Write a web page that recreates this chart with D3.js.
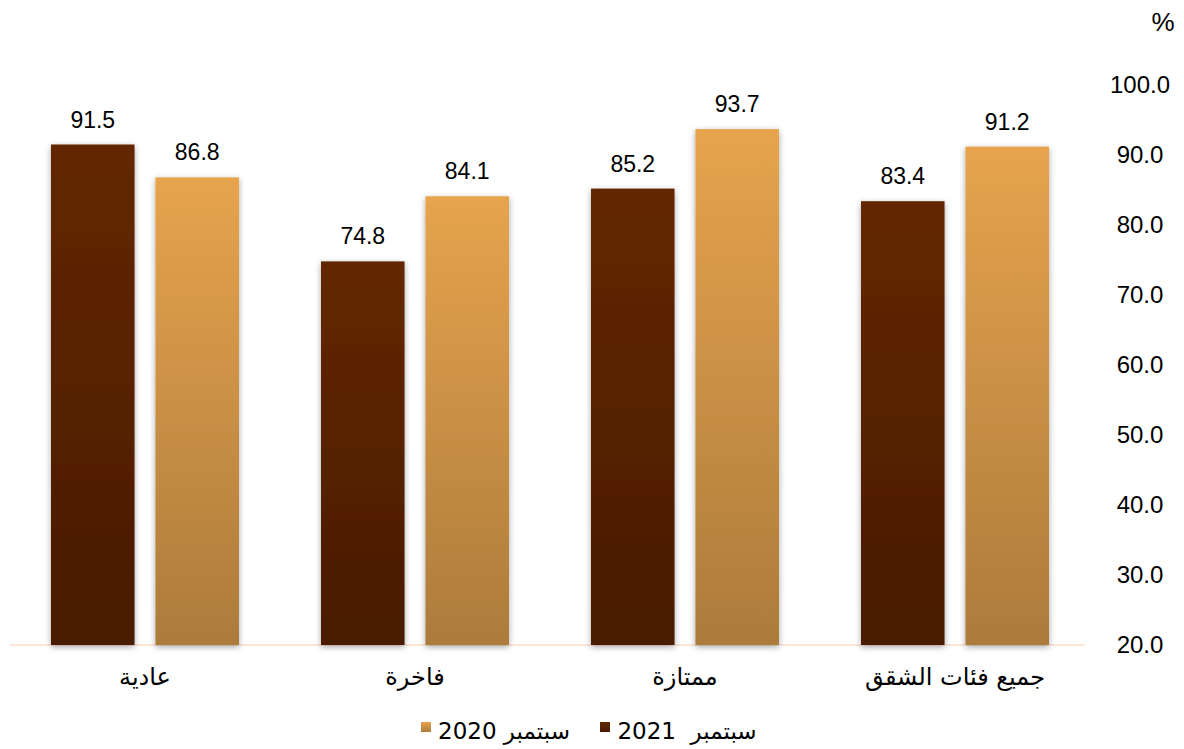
<!DOCTYPE html>
<html>
<head>
<meta charset="utf-8">
<script src="https://cdn.jsdelivr.net/npm/d3@7"></script>
<style>
  body { margin: 0; background: #fff; }
  text { font-family: "Liberation Sans", Arial, sans-serif; fill: #000; }
  .ar { font-family: "DejaVu Sans", "Noto Sans", sans-serif; white-space: pre; }
</style>
</head>
<body>
<div id="container"></div>
<script>
// data
const categories = ["عادية", "فاخرة", "ممتازة", "جميع فئات الشقق"];
const series = ["سبتمبر  2021", "سبتمبر 2020"];
const values2021 = [91.5, 74.8, 85.2, 83.4];
const values2020 = [86.8, 84.1, 93.7, 91.2];
const yTicks = [20, 30, 40, 50, 60, 70, 80, 90, 100];

const width = 1184;
const height = 749;

const svg = d3.select("#container")
  .append("svg")
  .attr("width", width)
  .attr("height", height);

const defs = svg.append("defs");
// gradients for the two series
const grads = [
  { id: "g2021", top: "#632700", bottom: "#481b00" },
  { id: "g2020", top: "#e6a44d", bottom: "#ac7b3c" }
];
grads.forEach((g) => {
  const lg = defs.append("linearGradient")
    .attr("id", g.id).attr("x1", 0).attr("y1", 0).attr("x2", 0).attr("y2", 1);
  lg.append("stop").attr("offset", "0%").attr("stop-color", g.top);
  lg.append("stop").attr("offset", "100%").attr("stop-color", g.bottom);
});
const shadow = defs.append("filter").attr("id", "shadow")
  .attr("x", "-20%").attr("y", "-10%").attr("width", "140%").attr("height", "120%");
shadow.append("feDropShadow")
  .attr("dx", 0).attr("dy", 2).attr("stdDeviation", 3)
  .attr("flood-color", "#000").attr("flood-opacity", 0.35);

// scales
const x0 = d3.scaleBand().domain(categories).range([10, 1090]).paddingInner(0).paddingOuter(0);
const x1 = d3.scaleBand().domain([0, 1]).range([41, 229]).paddingInner(0.2);
const y = d3.scaleLinear().domain([20, 100]).range([645, 85]);

// y axis labels (right side)
svg.append("g")
  .selectAll("text")
  .data(yTicks)
  .enter()
  .append("text")
  .attr("x", 1140)
  .attr("y", (d) => y(d))
  .attr("dy", "0.35em")
  .attr("text-anchor", "middle")
  .style("font-size", "24px")
  .text((d) => d3.format(".1f")(d));

svg.append("text")
  .attr("x", 1163).attr("y", 31)
  .attr("text-anchor", "middle")
  .style("font-size", "26px")
  .text("%");

// baseline
svg.append("line")
  .attr("x1", 10).attr("x2", 1085)
  .attr("y1", y(20)).attr("y2", y(20))
  .attr("stroke", "#fbe6d8").attr("stroke-width", 2);

// bars
const rows = categories.map((c, i) => ({ cat: c, vals: [values2021[i], values2020[i]] }));
const groups = svg.selectAll(".grp")
  .data(rows)
  .enter()
  .append("g")
  .attr("class", "grp")
  .attr("transform", (d) => `translate(${x0(d.cat)},0)`);

groups.selectAll("rect")
  .data((d) => d.vals.map((v, k) => ({ v, k })))
  .enter()
  .append("rect")
  .attr("x", (d) => x1(d.k))
  .attr("y", (d) => y(d.v))
  .attr("width", x1.bandwidth())
  .attr("height", (d) => y(20) - y(d.v))
  .attr("fill", (d) => `url(#${grads[d.k].id})`)
  .attr("filter", "url(#shadow)");

groups.selectAll(".lbl")
  .data((d) => d.vals.map((v, k) => ({ v, k })))
  .enter()
  .append("text")
  .attr("class", "lbl")
  .attr("x", (d) => x1(d.k) + x1.bandwidth() / 2)
  .attr("y", (d) => y(d.v) - 17)
  .attr("text-anchor", "middle")
  .style("font-size", "23px")
  .text((d) => d3.format(".1f")(d.v));

// category labels
svg.append("g")
  .selectAll("text")
  .data(categories)
  .enter()
  .append("text")
  .attr("class", "ar")
  .attr("x", (d) => x0(d) + x0.bandwidth() / 2)
  .attr("y", 685)
  .attr("text-anchor", "middle")
  .attr("direction", "rtl")
  .style("font-size", "24px")
  .text((d) => d);

// legend
const legendItems = [
  { name: series[1], grad: "g2020", sq: 421, tx: 504 },
  { name: series[0], grad: "g2021", sq: 600, tx: 687 }
];
const legend = svg.append("g").attr("id", "legend");
legend.selectAll("rect")
  .data(legendItems)
  .enter()
  .append("rect")
  .attr("x", (d) => d.sq).attr("y", 722)
  .attr("width", 10).attr("height", 10)
  .attr("fill", (d) => `url(#${d.grad})`);
legend.selectAll("text")
  .data(legendItems)
  .enter()
  .append("text")
  .attr("class", "ar")
  .attr("x", (d) => d.tx).attr("y", 739)
  .attr("text-anchor", "middle")
  .attr("direction", "rtl")
  .style("font-size", "23px")
  .text((d) => d.name);
</script>
</body>
</html>
